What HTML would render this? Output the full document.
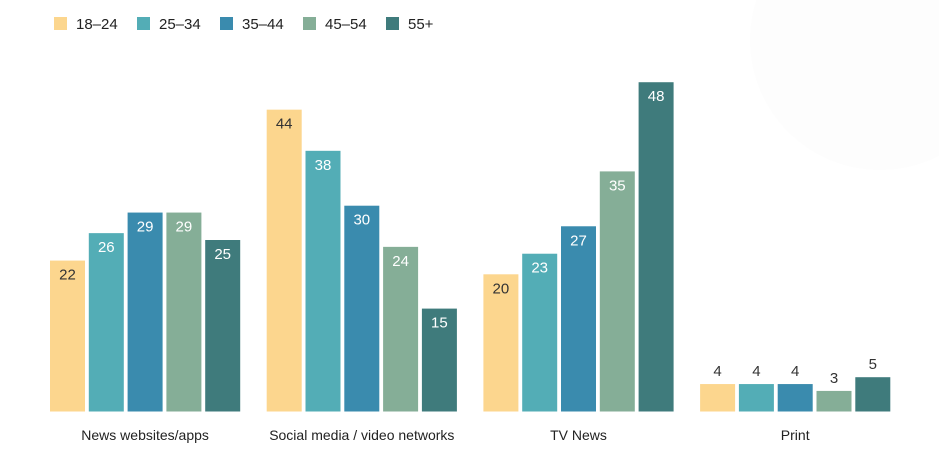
<!DOCTYPE html>
<html><head><meta charset="utf-8"><style>
body{margin:0;background:#fff;width:939px;height:454px;overflow:hidden;font-family:"Liberation Sans",sans-serif}
</style></head><body>
<svg width="939" height="454">
<circle cx="880" cy="40" r="130" fill="#fdfdfd"/>
<g id="legend"></g>
<g id="bars"></g>
<g id="xlabels"></g>
</svg>
<script>
const categories=["News websites/apps","Social media / video networks","TV News","Print"];
const series=["18–24","25–34","35–44","45–54","55+"];
const v1824=[22,44,20,4];
const v2534=[26,38,23,4];
const v3544=[29,30,27,4];
const v4554=[29,24,35,3];
const v55=[25,15,48,5];
const values=[v1824,v2534,v3544,v4554,v55];
const colors=["#fcd68e","#53adb6","#3a8bae","#85ae97","#3f7b7c"];
const NS="http://www.w3.org/2000/svg";
const base=411.5, ppu=6.86;
const y=v=>base-v*ppu;
const gx=i=>50+i*216.7, bx=j=>j*38.8, bw=35;
function mk(t,a,p){const e=document.createElementNS(NS,t);for(const k in a)e.setAttribute(k,a[k]);p.appendChild(e);return e;}
const L=document.getElementById('legend');
series.forEach((s,j)=>{
  const r=mk('rect',{x:54+j*83,y:17,width:13,height:13,fill:colors[j]},L);
  
  
  const t=mk('text',{x:76+j*83,y:29,'font-size':15,fill:'#222'},L);t.textContent=s;
  
  
});
const B=document.getElementById('bars');
categories.forEach((c,i)=>{
  series.forEach((s,j)=>{
    const v=values[j][i], x=gx(i)+bx(j);
    const r=mk('rect',{x:x,y:y(v),width:bw,height:base-y(v),fill:colors[j]},B);
    
    
    const inside=v>=10;
    const t=mk('text',{x:x+bw/2,y:inside?y(v)+19:y(v)-8,'text-anchor':'middle','font-size':15,fill:(inside&&j>0)?'#fff':'#333'},B);
    t.textContent=v;
    
    
  });
  const t=mk('text',{x:gx(i)+bx(2)+bw/2,y:440,'text-anchor':'middle','font-size':14,fill:'#222'},document.getElementById('xlabels'));
  t.textContent=c;
  
  
});
</script>
</body></html>
